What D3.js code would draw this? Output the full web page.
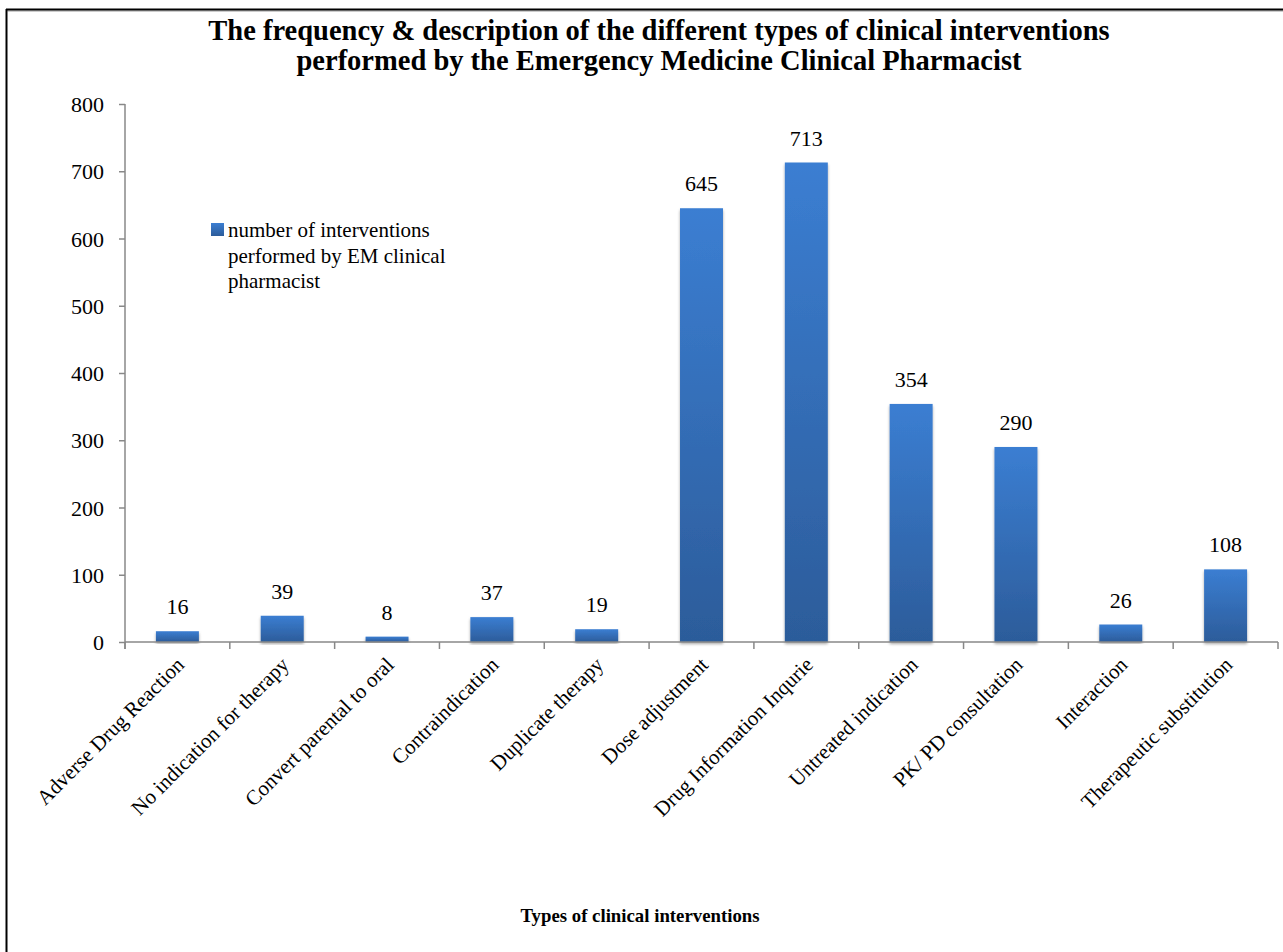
<!DOCTYPE html>
<html>
<head>
<meta charset="utf-8">
<script src="https://cdn.jsdelivr.net/npm/d3@7"></script>
<style>
  body { margin: 0; background: #fff; }
  svg text { font-family: "Liberation Serif", "Times New Roman", serif; fill: #000; }
</style>
</head>
<body>
<script>
// chart data
var categories = ["Adverse Drug Reaction", "No indication for therapy", "Convert parental to oral",
  "Contraindication", "Duplicate therapy", "Dose adjustment", "Drug Information Inqurie",
  "Untreated indication", "PK/ PD consultation", "Interaction", "Therapeutic substitution"];
var counts = [16, 39, 8, 37, 19, 645, 713, 354, 290, 26, 108];
var yTicks = [0, 100, 200, 300, 400, 500, 600, 700, 800];
var titleLines = ["The frequency & description of the different types of clinical interventions",
  "performed by the Emergency Medicine Clinical Pharmacist"];
var legendLines = ["number of interventions", "performed by EM clinical", "pharmacist"];
var xTitle = "Types of clinical interventions";

var W = 1283, H = 952;
var serif = "'Liberation Serif', 'Times New Roman', serif";
var svg = d3.select("body").append("svg").attr("width", W).attr("height", H);

var defs = svg.append("defs");
var grad = defs.append("linearGradient").attr("id", "barGrad")
    .attr("x1", 0).attr("y1", 0).attr("x2", 0).attr("y2", 1);
grad.append("stop").attr("offset", "0%").attr("stop-color", "#3b7ed2");
grad.append("stop").attr("offset", "100%").attr("stop-color", "#2c5c9a");
var lgGrad = defs.append("linearGradient").attr("id", "lgGrad")
    .attr("x1", 0).attr("y1", 0).attr("x2", 0).attr("y2", 1);
lgGrad.append("stop").attr("offset", "0%").attr("stop-color", "#3b7ed2");
lgGrad.append("stop").attr("offset", "100%").attr("stop-color", "#2c5c9a");
var shadow = defs.append("filter").attr("id", "shadow")
    .attr("x", "-20%").attr("y", "-5%").attr("width", "140%").attr("height", "115%");
shadow.append("feGaussianBlur").attr("in", "SourceAlpha").attr("stdDeviation", 1.5);
shadow.append("feOffset").attr("dx", 0).attr("dy", 1.5).attr("result", "ob");
shadow.append("feComponentTransfer").append("feFuncA").attr("type", "linear").attr("slope", 0.35);
var fm = shadow.append("feMerge");
fm.append("feMergeNode");
fm.append("feMergeNode").attr("in", "SourceGraphic");

// outer frame (cut off at right/bottom)
svg.append("line").attr("x1", 7.5).attr("x2", W + 5).attr("y1", 11).attr("y2", 11)
    .attr("stroke", "#bbb").attr("stroke-width", 1.5);
svg.append("line").attr("x1", 6).attr("x2", W + 5).attr("y1", 9.5).attr("y2", 9.5)
    .attr("stroke", "#000").attr("stroke-width", 2);
svg.append("line").attr("x1", 6.5).attr("x2", 6.5).attr("y1", 9).attr("y2", H + 5)
    .attr("stroke", "#000").attr("stroke-width", 2);

var plotLeft = 125, plotRight = 1278, plotTop = 104, plotBottom = 642;

var x = d3.scaleBand().domain(categories).range([plotLeft, plotRight]).paddingInner(0.59).paddingOuter(0.295);
var xTicks = d3.scaleBand().domain(categories).range([plotLeft, plotRight]);
var y = d3.scaleLinear().domain([0, 800]).range([plotBottom, plotTop]);

// title
svg.append("text").attr("text-anchor", "middle")
    .attr("font-weight", "bold").attr("font-size", 28.5).style("font-family", serif)
  .selectAll("tspan").data(titleLines).enter().append("tspan")
    .attr("x", 659).attr("y", function(d, i) { return 40 + i * 29.5; })
    .text(function(d) { return d; });

// y axis
var yAxis = svg.append("g").attr("transform", "translate(" + plotLeft + ",0)")
    .call(d3.axisLeft(y).tickValues(yTicks).tickSize(6).tickPadding(15).tickFormat(d3.format("d")));
yAxis.select(".domain").attr("stroke", "#888").attr("stroke-width", 1.5)
    .attr("d", "M0," + (plotBottom + 7) + "V" + plotTop);
yAxis.selectAll(".tick line").attr("stroke", "#888").attr("stroke-width", 1.5);
yAxis.selectAll(".tick text").attr("font-size", 22).style("font-family", serif)
    .attr("fill", "#000").attr("dy", "0.35em");

// bars
svg.append("g").selectAll("rect").data(counts).enter().append("rect")
    .attr("x", function(d, i) { return x(categories[i]); })
    .attr("width", x.bandwidth())
    .attr("y", function(d) { return y(d); })
    .attr("height", function(d) { return plotBottom - y(d); })
    .attr("fill", "url(#barGrad)")
    .attr("filter", "url(#shadow)");

// x axis
var xAxis = svg.append("g").attr("transform", "translate(0," + plotBottom + ")");
xAxis.append("line").attr("x1", plotLeft).attr("x2", plotRight).attr("stroke", "#888").attr("stroke-width", 1.5);
xAxis.selectAll("line.tk").data(categories.concat(["end"])).enter().append("line").attr("class", "tk")
    .attr("x1", function(d, i) { return plotLeft + i * xTicks.bandwidth(); })
    .attr("x2", function(d, i) { return plotLeft + i * xTicks.bandwidth(); })
    .attr("y1", 0).attr("y2", 7)
    .attr("stroke", "#888").attr("stroke-width", 1.5);

// value labels
svg.append("g").selectAll("text").data(counts).enter().append("text")
    .attr("x", function(d, i) { return x(categories[i]) + x.bandwidth() / 2; })
    .attr("y", function(d) { return y(d) - 17; })
    .attr("text-anchor", "middle").attr("font-size", 22).style("font-family", serif)
    .text(function(d) { return d; });

// category labels rotated
svg.append("g").selectAll("text").data(categories).enter().append("text")
    .attr("transform", function(d) {
      var cx = xTicks(d) + xTicks.bandwidth() / 2 + 8;
      return "translate(" + cx + "," + (plotBottom + 24) + ") rotate(-45)";
    })
    .attr("text-anchor", "end").attr("font-size", 21).style("font-family", serif)
    .text(function(d) { return d; });

// x axis title
svg.append("text").attr("x", 640).attr("y", 922).attr("text-anchor", "middle")
    .attr("font-weight", "bold").attr("font-size", 18.8).style("font-family", serif).text(xTitle);

// legend
var lg = svg.append("g");
lg.append("rect").attr("x", 211).attr("y", 223).attr("width", 13).attr("height", 13).attr("fill", "url(#lgGrad)");
lg.append("text").attr("font-size", 21).style("font-family", serif)
  .selectAll("tspan").data(legendLines).enter().append("tspan")
    .attr("x", 228).attr("y", function(d, i) { return 237 + i * 25.5; })
    .text(function(d) { return d; });
</script>
</body>
</html>
